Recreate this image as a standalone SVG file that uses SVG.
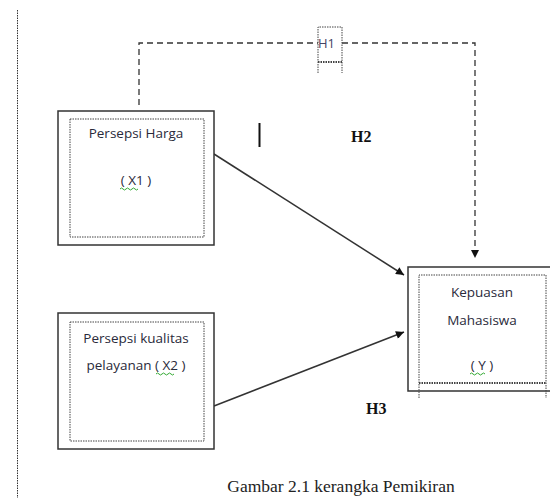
<svg xmlns="http://www.w3.org/2000/svg" width="550" height="500" viewBox="0 0 550 500">
<style>
.outer{fill:#fff;stroke:#333;stroke-width:1.5}
.inner{fill:none;stroke:#444;stroke-width:1;stroke-dasharray:1.5 1}
.thick{fill:none;stroke:#444;stroke-width:2;stroke-dasharray:1.5 1}
.lbl{font-family:"Open Sans","Liberation Sans",sans-serif;font-size:13.5px;fill:#2a2a3a;text-anchor:middle}
.hyp{font-family:"Liberation Serif",serif;font-size:16px;font-weight:bold;fill:#111}
.cap{font-family:"Liberation Serif",serif;font-size:17.5px;fill:#222;text-anchor:middle}
.dash{fill:none;stroke:#333;stroke-width:1.3;stroke-dasharray:6 4}
.arr{fill:none;stroke:#333;stroke-width:1.5}
.squig{fill:none;stroke:#3a3;stroke-width:1}
</style>
<defs>
<marker id="ah" viewBox="0 0 10 10" refX="10" refY="5" markerWidth="10" markerHeight="8" markerUnits="userSpaceOnUse" orient="auto">
<path d="M0,0 L10,5 L0,10 Z" fill="#111"/>
</marker>
</defs>
<line x1="17.5" y1="10" x2="17.5" y2="498" stroke="#333" stroke-width="1" stroke-dasharray="1.5 1"/>
<g id="connectors">
<polyline class="dash" points="139,105 139,43 318,43"/>
<polyline class="dash" points="342,43 475,43 475,258" marker-end="url(#ah)"/>
<line class="arr" x1="214" y1="154" x2="404" y2="275" marker-end="url(#ah)"/>
<line class="arr" x1="214" y1="406" x2="404" y2="332" marker-end="url(#ah)"/>
</g>
<g id="h1">
<path class="inner" d="M318,73 V27 H342 V73"/>
<line class="thick" x1="318" y1="62" x2="342" y2="62"/>
<text x="318" y="48" style="font-family:'Open Sans','Liberation Sans',sans-serif;font-size:13px;fill:#446">H1</text>
</g>
<g id="x1">
<rect class="outer" x="58" y="111" width="156" height="134"/>
<rect class="inner" x="70" y="119" width="134" height="118"/>
<text class="lbl" x="136" y="138">Persepsi Harga</text>
<text class="lbl" x="136" y="185">( X1 )</text>
<path class="squig" d="M120,189 q1.5,-2 3,0 t3,0 t3,0 t3,0 t3,0 t3,0"/>
</g>
<g id="x2">
<rect class="outer" x="58" y="313" width="156" height="136"/>
<rect class="inner" x="70" y="322" width="134" height="119"/>
<text class="lbl" x="136" y="343">Persepsi kualitas</text>
<text class="lbl" x="136" y="370">pelayanan ( X2 )</text>
<path class="squig" d="M156,374 q1.5,-2 3,0 t3,0 t3,0 t3,0 t3,0 t3,0"/>
</g>
<g id="y">
<path class="outer" d="M552,267 H408 V391 H552"/>
<path class="inner" d="M419,398 V275 H546 V398"/>
<line class="thick" x1="419" y1="383" x2="546" y2="383"/>
<text class="lbl" x="482" y="297">Kepuasan</text>
<text class="lbl" x="482" y="325">Mahasiswa</text>
<text class="lbl" x="482" y="370">( Y )</text>
<path class="squig" d="M470,374 q1.5,-2 3,0 t3,0 t3,0 t3,0 t3,0"/>
</g>
<line x1="259.5" y1="123" x2="259.5" y2="147" stroke="#111" stroke-width="2"/>
<text class="hyp" x="351" y="142">H2</text>
<text class="hyp" x="366" y="414">H3</text>
<text class="cap" x="341" y="492">Gambar 2.1 kerangka Pemikiran</text>
</svg>
